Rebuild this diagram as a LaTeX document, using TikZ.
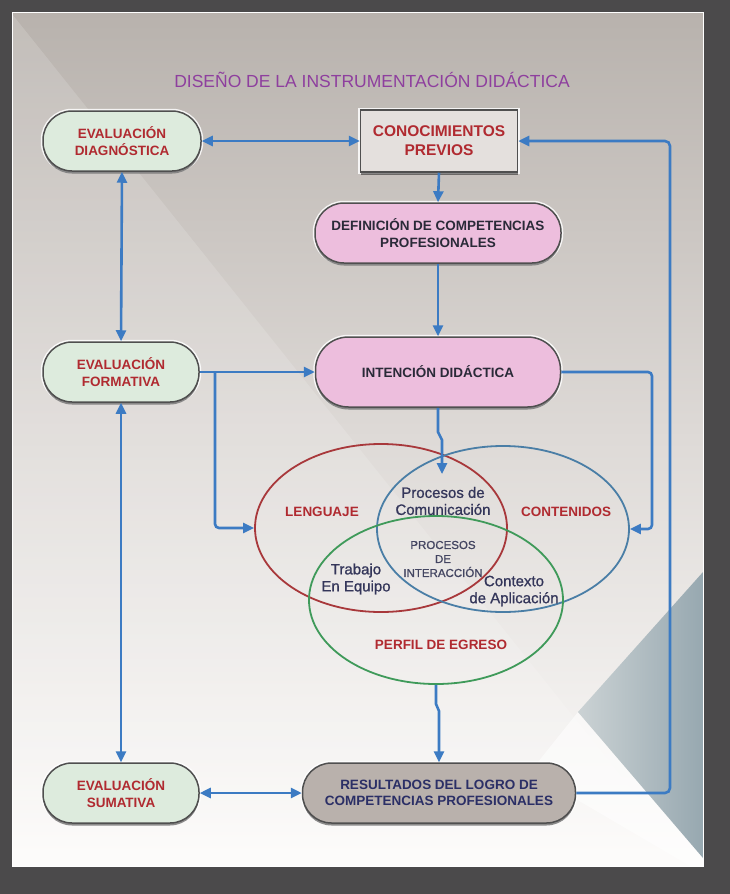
\documentclass[tikz,border=0pt]{standalone}
\usepackage{fontspec}
\setmainfont{Liberation Sans}
\newfontfamily\medfont{Liberation Sans}[FakeBold=0.9]
\usetikzlibrary{arrows.meta,shapes.geometric,shadows}
\definecolor{framec}{HTML}{4B4A4B}
\definecolor{bgtop}{HTML}{B8B2AD}
\definecolor{bgmid}{HTML}{DEDAD7}
\definecolor{bgbot}{HTML}{FDFCFB}
\definecolor{arrc}{HTML}{3C7BC3}
\definecolor{redt}{HTML}{B02A30}
\definecolor{navyt}{HTML}{2B2F66}
\definecolor{darkt}{HTML}{2A2A38}
\definecolor{venntxt}{HTML}{34365A}
\definecolor{titlec}{HTML}{8E3F9E}
\definecolor{greenf}{HTML}{DDEBDD}
\definecolor{pinkf}{HTML}{EDBEDD}
\definecolor{conf}{HTML}{E4E0DD}
\definecolor{resf}{HTML}{B9B1AC}
\definecolor{outl}{HTML}{4F4F4F}
\definecolor{circr}{HTML}{A8383B}
\definecolor{circb}{HTML}{4A7EA6}
\definecolor{circg}{HTML}{3F9A5A}
\definecolor{tril}{HTML}{CBD2D4}
\definecolor{trid}{HTML}{97A8B0}
\begin{document}
\begin{tikzpicture}[x=1pt,y=-1pt,
  boxtxt/.style={font=\fontsize{13.5}{16.5}\selectfont\bfseries, align=center, inner sep=0pt},
  pill/.style={boxtxt, rounded corners=29pt, draw=outl, line width=1.5pt,
    preaction={draw=white, line width=4.5pt, opacity=0.85},
    drop shadow={shadow xshift=0pt, shadow yshift=-2.5pt, opacity=0.45, fill=black},
    minimum height=60pt},
  conbox/.style={boxtxt, draw=outl, line width=1.5pt,
    preaction={draw=white, line width=4.5pt, opacity=0.85},
    drop shadow={shadow xshift=0pt, shadow yshift=-2.5pt, opacity=0.45, fill=black}},
  venn/.style={ellipse, line width=1.8pt, inner sep=0pt},
  vlabel/.style={font=\fontsize{13.5}{16.5}\selectfont\bfseries, text=redt, align=center},
  vsmall/.style={font=\fontsize{15}{17}\selectfont\medfont, text=venntxt, align=center},
  arr/.style={draw=arrc, line width=2.6pt, -{Triangle[length=11pt,width=10pt]}},
  dblarr/.style={draw=arrc, line width=2.6pt, {Triangle[length=11pt,width=10pt]}-{Triangle[length=11pt,width=10pt]}}
]
\useasboundingbox (0,0) rectangle (730,894);
% background
\fill[framec] (0,0) rectangle (730,894);
\shade[top color=bgtop, bottom color=bgbot, middle color=bgmid] (12,12) rectangle (703,866);
\fill[white, opacity=0.15] (12,14) -- (640,800) -- (12,800) -- cycle;
\fill[white, opacity=0.55] (578,712) -- (530,772) -- (690,866) -- (703,866) -- (703,858) -- cycle;
\shade[left color=tril, right color=trid] (703,572) -- (578,712) -- (703,858) -- cycle;
\draw[white, line width=0.8pt] (12,12) rectangle (703,866);

% title
\node[font=\fontsize{17.5}{20}\selectfont, text=titlec] (title) at (372,80) {DISEÑO DE LA INSTRUMENTACIÓN DIDÁCTICA};

% venn
\node[venn, draw=circr, minimum width=252pt, minimum height=168pt] (lg) at (381,528) {};
\node[venn, draw=circb, minimum width=252pt, minimum height=166pt] (ct) at (503,529) {};
\node[venn, draw=circg, minimum width=254pt, minimum height=168pt] (pe) at (436,600) {};

\node[vlabel] (lgt) at (322,512) {LENGUAJE};
\node[vlabel] (ctt) at (566,512) {CONTENIDOS};
\node[vlabel] (pet) at (441,645) {PERFIL DE EGRESO};
\node[vsmall] (pc) at (443,501) {Procesos de\\Comunicación};
\node[font=\fontsize{11.5}{14}\selectfont\medfont, text=venntxt!80!gray, align=center] (pi) at (443,559) {PROCESOS\\DE\\INTERACCIÓN};
\node[vsmall] (te) at (356,579) {Trabajo\\En Equipo};
\node[vsmall] (ca) at (514,591) {Contexto\\de Aplicación};

% boxes
\node[pill, fill=greenf, text=redt, minimum width=158pt] (diag) at (122,141) {EVALUACIÓN\\DIAGNÓSTICA};
\node[conbox, fill=conf, text=redt, minimum width=157pt, minimum height=62pt, font=\fontsize{15.5}{19}\selectfont\bfseries] (conoc) at (439,141) {CONOCIMIENTOS\\PREVIOS};
\node[pill, fill=pinkf, text=darkt, minimum width=246pt] (defin) at (438,233) {DEFINICIÓN DE COMPETENCIAS\\PROFESIONALES};
\node[pill, fill=pinkf, text=darkt, minimum width=245pt, minimum height=70pt, rounded corners=33pt] (inten) at (438,372) {INTENCIÓN DIDÁCTICA};
\node[pill, fill=greenf, text=redt, minimum width=156pt] (form) at (121,372) {EVALUACIÓN\\FORMATIVA};
\node[pill, fill=greenf, text=redt, minimum width=156pt] (suma) at (121,793) {EVALUACIÓN\\SUMATIVA};
\node[pill, fill=resf, text=navyt, minimum width=273pt] (res) at (439,793) {RESULTADOS DEL LOGRO DE\\COMPETENCIAS PROFESIONALES};

% connectors
\coordinate (fb) at (215,372);
\coordinate (rc) at (652,372);
\coordinate (vin) at (442,474);
\coordinate (rr) at (670,141);
\coordinate (k1) at (438,432);
\coordinate (k2) at (442,440);
\coordinate (k3) at (436,704);
\coordinate (k4) at (439,711);

\draw[dblarr] (diag.east) -- (conoc.west);
\draw[arr] (conoc.south) -- (defin.north);
\draw[arr] (defin.south) -- (inten.north);
\draw[dblarr] (diag.south) -- (form.north);
\draw[dblarr] (form.south) -- (suma.north);
\draw[arr] (form.east) -- (inten.west);
\draw[arr, rounded corners=4pt] (fb) |- (lg.west);
\draw[arr, rounded corners=4pt] (inten.east) -- (rc) |- (ct.east);
\draw[arr] (inten.south) -- (k1) -- (k2) -- (vin);
\draw[arr] (pe.south) -- (k3) -- (k4) -- (res.north);
\draw[arr, rounded corners=5pt] (res.east) -| (rr) -- (conoc.east);
\draw[dblarr] (suma.east) -- (res.west);
\end{tikzpicture}
\end{document}
